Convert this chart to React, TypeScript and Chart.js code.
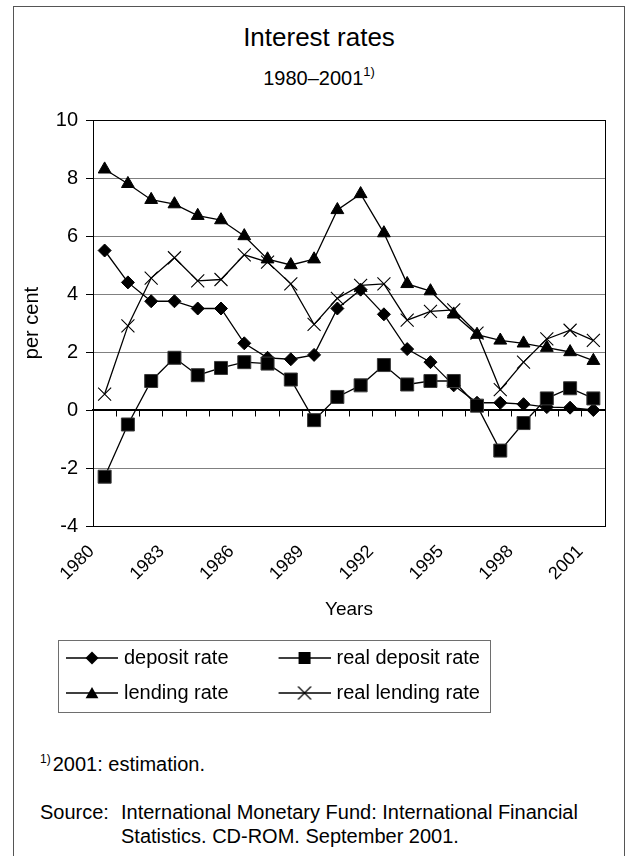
import React, { useEffect, useRef } from 'react';
import { Chart, registerables } from 'chart.js';

Chart.register(...registerables);

const FONT = '"Liberation Sans", Arial, Helvetica, sans-serif';

const years = [
  '1980', '1981', '1982', '1983', '1984', '1985', '1986', '1987', '1988', '1989', '1990',
  '1991', '1992', '1993', '1994', '1995', '1996', '1997', '1998', '1999', '2000', '2001',
];
const tickYears = ['1980', '1983', '1986', '1989', '1992', '1995', '1998', '2001'];
const yTickValues = [-4, -2, 0, 2, 4, 6, 8, 10];

const depositRate = [5.5, 4.4, 3.75, 3.75, 3.5, 3.5, 2.3, 1.8, 1.75, 1.9, 3.5, 4.15, 3.3, 2.1, 1.65, 0.85, 0.25, 0.25, 0.2, 0.1, 0.08, 0.0];
const realDepositRate = [-2.3, -0.5, 1.0, 1.8, 1.2, 1.45, 1.65, 1.6, 1.05, -0.35, 0.45, 0.85, 1.55, 0.88, 1.0, 1.0, 0.15, -1.4, -0.45, 0.4, 0.75, 0.4];
const lendingRate = [8.3, 7.8, 7.25, 7.1, 6.7, 6.55, 6.0, 5.2, 5.0, 5.2, 6.9, 7.45, 6.1, 4.35, 4.1, 3.3, 2.6, 2.4, 2.3, 2.15, 2.0, 1.7];
const realLendingRate = [0.55, 2.9, 4.55, 5.25, 4.45, 4.5, 5.35, 5.1, 4.35, 2.95, 3.85, 4.3, 4.35, 3.1, 3.4, 3.45, 2.65, 0.7, 1.65, 2.45, 2.75, 2.4];

const seriesNames = ['deposit rate', 'real deposit rate', 'lending rate', 'real lending rate'];

function makeSymbol(kind: string): HTMLCanvasElement {
  const c = document.createElement('canvas');
  c.width = 91;
  c.height = 20;
  const g = c.getContext('2d') as CanvasRenderingContext2D;
  const cy = 10;
  const cx = 65;
  g.fillStyle = '#000';
  g.fillRect(39, cy - 0.75, 52, 1.5);
  g.beginPath();
  if (kind === 'rectRot') {
    const r = 6.5;
    g.moveTo(cx, cy - r);
    g.lineTo(cx + r, cy);
    g.lineTo(cx, cy + r);
    g.lineTo(cx - r, cy);
    g.closePath();
    g.fill();
  } else if (kind === 'rect') {
    const s = 6;
    g.fillRect(cx - s, cy - s, 2 * s, 2 * s);
  } else if (kind === 'triangle') {
    const r = 7.4;
    for (let k = 0; k < 3; k++) {
      const a = (k * 2 * Math.PI) / 3;
      const px = cx + Math.sin(a) * r;
      const py = cy + 1.5 - Math.cos(a) * r;
      if (k === 0) g.moveTo(px, py);
      else g.lineTo(px, py);
    }
    g.closePath();
    g.fill();
  } else {
    const h = 6.5;
    g.strokeStyle = '#000';
    g.lineWidth = 1.2;
    g.moveTo(cx - h, cy - h);
    g.lineTo(cx + h, cy + h);
    g.moveTo(cx + h, cy - h);
    g.lineTo(cx - h, cy + h);
    g.stroke();
  }
  return c;
}

const framePlugin = {
  id: 'plotFrame',
  beforeDatasetsDraw(chart: any) {
    const { ctx, chartArea } = chart;
    const l = Math.round(chartArea.left);
    const t = Math.round(chartArea.top);
    const r = Math.round(chartArea.right);
    const b = Math.round(chartArea.bottom);
    ctx.save();
    ctx.strokeStyle = '#000';
    ctx.lineWidth = 1;
    ctx.strokeRect(l + 0.5, t + 0.5, r - l, b - t);
    ctx.restore();
  },
};

const legendFramePlugin = {
  id: 'legendFrame',
  afterDraw(chart: any) {
    const hb = chart.legend && chart.legend.legendHitBoxes;
    if (!hb || hb.length < 4) return;
    const left = Math.round(hb[0].left + 27);
    const top = Math.round(hb[0].top - 8);
    const right = Math.round(hb[1].left + hb[1].width + 10);
    const bottom = Math.round(hb[2].top + hb[2].height + 9);
    const ctx = chart.ctx;
    ctx.save();
    ctx.strokeStyle = '#6e6e6e';
    ctx.lineWidth = 1;
    ctx.strokeRect(left + 0.5, top + 0.5, right - left, bottom - top);
    ctx.restore();
  },
};

function InterestChart() {
  const ref = useRef<HTMLCanvasElement | null>(null);

  useEffect(() => {
    if (!ref.current) return;
    const styles = ['rectRot', 'rect', 'triangle', 'crossRot'];
    const symbols = styles.map((s) => makeSymbol(s));

    const chart = new Chart(ref.current, {
      type: 'line',
      data: {
        labels: years,
        datasets: [
          {
            label: seriesNames[0],
            data: depositRate,
            borderColor: '#000',
            borderWidth: 1.3,
            pointStyle: 'rectRot',
            pointRadius: 6.5,
            pointBackgroundColor: '#000',
            pointBorderColor: '#000',
            pointBorderWidth: 1,
            order: 4,
          },
          {
            label: seriesNames[1],
            data: realDepositRate,
            borderColor: '#000',
            borderWidth: 1.3,
            pointStyle: 'rect',
            pointRadius: 9.2,
            pointBackgroundColor: '#000',
            pointBorderColor: '#3a3a3a',
            pointBorderWidth: 1,
            order: 1,
          },
          {
            label: seriesNames[2],
            data: lendingRate,
            borderColor: '#000',
            borderWidth: 1.3,
            pointStyle: 'triangle',
            pointRadius: 7.4,
            pointBackgroundColor: '#000',
            pointBorderColor: '#000',
            pointBorderWidth: 1,
            order: 3,
          },
          {
            label: seriesNames[3],
            data: realLendingRate,
            borderColor: '#000',
            borderWidth: 1.3,
            pointStyle: 'crossRot',
            pointRadius: 9.2,
            pointBackgroundColor: '#000',
            pointBorderColor: '#000',
            pointBorderWidth: 1.1,
            order: 2,
          },
        ],
      },
      options: {
        animation: false,
        responsive: true,
        maintainAspectRatio: false,
        devicePixelRatio: 1,
        layout: { padding: { left: 2, right: 18, top: 24, bottom: 0 } },
        plugins: {
          title: { display: false },
          tooltip: { enabled: false },
          legend: {
            display: true,
            position: 'bottom',
            align: 'start',
            labels: {
              usePointStyle: true,
              pointStyleWidth: 83,
              padding: 15,
              color: '#000',
              font: { family: FONT, size: 20 },
              sort: (a: any, b: any) => a.datasetIndex - b.datasetIndex,
              generateLabels: (c: any) => {
                const items = (Chart as any).defaults.plugins.legend.labels.generateLabels(c);
                return items.map((it: any) => ({
                  ...it,
                  pointStyle: symbols[it.datasetIndex],
                  fontColor: '#000',
                }));
              },
            },
          },
        },
        scales: {
          x: {
            type: 'category',
            position: 'bottom',
            offset: true,
            grid: { display: false, drawTicks: false },
            border: { display: true, color: '#000', width: 1 },
            ticks: {
              autoSkip: false,
              maxRotation: 45,
              minRotation: 45,
              padding: 15,
              labelOffset: -13,
              color: '#000',
              font: { family: FONT, size: 18 },
              callback: (_v: any, index: number) => {
                const l = years[index];
                return tickYears.includes(l) ? l : '';
              },
            },
            title: {
              display: true,
              text: 'Years',
              color: '#000',
              font: { family: FONT, size: 19 },
              padding: { top: 12, bottom: 12 },
            },
            afterFit: (s: any) => {
              s.height = 107;
              s.paddingLeft = 0;
              s.paddingRight = 0;
            },
          },
          x0: {
            type: 'category',
            axis: 'x',
            position: { y: 0 },
            offset: true,
            grid: {
              display: true,
              drawOnChartArea: false,
              drawTicks: true,
              tickLength: 6,
              color: '#000',
              offset: true,
              lineWidth: 1,
            },
            border: { display: true, color: '#000', width: 1.5 },
            ticks: { display: false },
          },
          y: {
            type: 'linear',
            min: yTickValues[0],
            max: yTickValues[yTickValues.length - 1],
            afterBuildTicks: (s: any) => {
              s.ticks = yTickValues.map((v) => ({ value: v }));
            },
            ticks: {
              padding: 8,
              color: '#000',
              font: { family: FONT, size: 20 },
            },
            grid: {
              color: (c: any) => (c.tick && c.tick.value === 0 ? '#000' : '#808080'),
              lineWidth: 1,
              drawTicks: true,
              tickLength: 7,
              tickColor: '#000',
            },
            border: { display: true, color: '#000', width: 1 },
            title: {
              display: true,
              text: 'per cent',
              color: '#000',
              font: { family: FONT, size: 20 },
              padding: { top: 4, bottom: 4 },
            },
            afterFit: (s: any) => {
              s.width = 77;
            },
          },
        },
      } as any,
      plugins: [framePlugin, legendFramePlugin],
    });
    return () => chart.destroy();
  }, []);

  return <canvas ref={ref} />;
}

export default function App() {
  return (
    <div
      style={{
        position: 'absolute',
        left: 0,
        top: 0,
        width: 626,
        height: 856,
        overflow: 'hidden',
        background: '#fff',
        fontFamily: FONT,
        color: '#000',
      }}
    >
      <div
        style={{
          position: 'absolute',
          left: 13,
          top: 6,
          width: 612,
          height: 900,
          border: '1px solid #555',
          boxSizing: 'border-box',
        }}
      />
      <div
        style={{
          position: 'absolute',
          left: 13,
          top: 24,
          width: 612,
          textAlign: 'center',
          fontSize: 26,
          lineHeight: '26px',
          whiteSpace: 'nowrap',
        }}
      >
        Interest rates
      </div>
      <div
        style={{
          position: 'absolute',
          left: 13,
          top: 68,
          width: 612,
          textAlign: 'center',
          fontSize: 20,
          lineHeight: '20px',
          whiteSpace: 'nowrap',
        }}
      >
        1980–2001
        <span style={{ fontSize: 13, position: 'relative', top: -9 }}>1)</span>
      </div>
      <div style={{ position: 'absolute', left: 14, top: 96, width: 609, height: 617 }}>
        <InterestChart />
      </div>
      <div
        style={{
          position: 'absolute',
          left: 40,
          top: 754,
          fontSize: 20,
          lineHeight: '20px',
          whiteSpace: 'nowrap',
        }}
      >
        <span style={{ fontSize: 12, position: 'relative', top: -8, marginRight: 2 }}>1)</span>
        2001: estimation.
      </div>
      <div
        style={{
          position: 'absolute',
          left: 40,
          top: 800,
          fontSize: 20,
          lineHeight: '24px',
          whiteSpace: 'nowrap',
          display: 'flex',
        }}
      >
        <span style={{ width: 81, display: 'inline-block' }}>Source:</span>
        <span>
          International Monetary Fund: International Financial
          <br />
          Statistics. CD-ROM. September 2001.
        </span>
      </div>
    </div>
  );
}
